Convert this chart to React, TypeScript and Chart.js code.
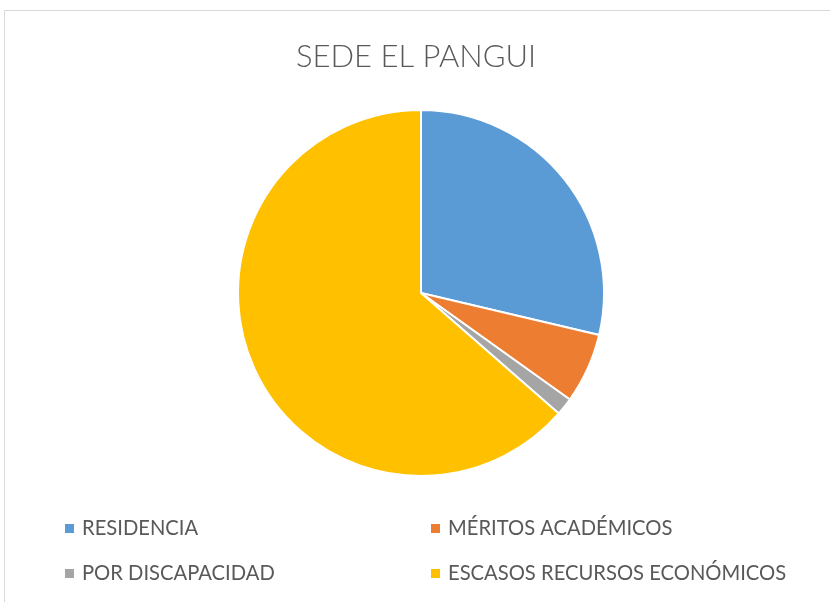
import React, { useEffect, useRef } from "react";
import { Chart, registerables } from "chart.js";

Chart.register(...registerables);

const TITLE = "SEDE EL PANGUI";
const CATEGORIES = ["RESIDENCIA", "MÉRITOS ACADÉMICOS", "POR DISCAPACIDAD", "ESCASOS RECURSOS ECONÓMICOS"];
const VALUES = [37, 8, 2, 82];
const COLORS = ["#5B9BD5", "#ED7D31", "#A5A5A5", "#FFC000"];

const TEXT_COLOR = "#595959";
const FONT = "Lato, 'Open Sans', sans-serif";

const decorPlugin = {
  id: "decor",
  beforeDraw(chart: any) {
    const ctx = chart.ctx;
    ctx.save();
    ctx.fillStyle = "#ffffff";
    ctx.fillRect(0, 0, chart.width, chart.height);
    ctx.strokeStyle = "#d9d9d9";
    ctx.lineWidth = 1;
    ctx.beginPath();
    ctx.moveTo(4.5, chart.height);
    ctx.lineTo(4.5, 10.5);
    ctx.lineTo(chart.width, 10.5);
    ctx.stroke();
    ctx.restore();
  },
  afterDraw(chart: any) {
    const ctx = chart.ctx;
    ctx.save();
    // title
    ctx.fillStyle = TEXT_COLOR;
    ctx.font = `300 31px ${FONT}`;
    ctx.textAlign = "center";
    ctx.textBaseline = "alphabetic";
    ctx.fillText(TITLE, 416, 67);
    // legend 2x2 grid
    const labels: string[] = chart.data.labels;
    const colors: string[] = chart.data.datasets[0].backgroundColor;
    const colX = [65, 431];
    const rowY = [535, 580];
    ctx.font = `400 20.2px ${FONT}`;
    ctx.textAlign = "left";
    labels.forEach((lab, i) => {
      const x = colX[i % 2];
      const y = rowY[Math.floor(i / 2)];
      ctx.fillStyle = colors[i];
      ctx.fillRect(x, y - 11, 9, 9);
      ctx.fillStyle = TEXT_COLOR;
      ctx.fillText(lab, x + 17, y);
    });
    ctx.restore();
  },
};

export default function App() {
  const ref = useRef<HTMLCanvasElement | null>(null);
  useEffect(() => {
    if (!ref.current) return;
    const chart = new Chart(ref.current, {
      type: "pie",
      data: {
        labels: CATEGORIES,
        datasets: [
          {
            data: VALUES,
            backgroundColor: COLORS,
            borderColor: "#ffffff",
            borderWidth: 2,
          },
        ],
      },
      options: {
        responsive: false,
        animation: false,
        layout: { padding: { top: 109, bottom: 125, left: 237, right: 225 } },
        plugins: {
          legend: { display: false },
          title: { display: false },
          tooltip: { enabled: false },
        },
      },
      plugins: [decorPlugin],
    });
    return () => chart.destroy();
  }, []);
  return (
    <div style={{ position: "fixed", left: 0, top: 0, width: 830, height: 602, background: "#fff" }}>
      <canvas ref={ref} width={830} height={602} style={{ display: "block" }} />
    </div>
  );
}
